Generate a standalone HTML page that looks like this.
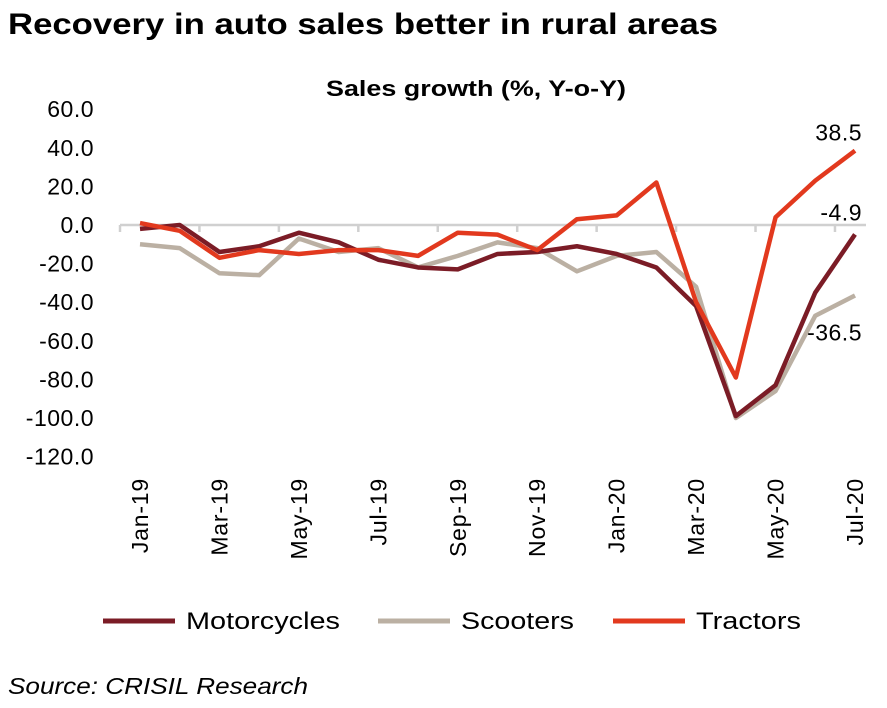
<!DOCTYPE html>
<html><head><meta charset="utf-8"><style>
body{margin:0;background:#fff;width:887px;height:703px;overflow:hidden;font-family:"Liberation Sans",sans-serif}
</style></head><body>
<svg width="887" height="703" font-family="Liberation Sans, sans-serif">
<text x="8" y="34" font-size="30" font-weight="bold" fill="#000" textLength="710" lengthAdjust="spacingAndGlyphs">Recovery in auto sales better in rural areas</text>
<text x="326" y="96" font-size="22" font-weight="bold" textLength="300" lengthAdjust="spacingAndGlyphs">Sales growth (%, Y-o-Y)</text>
<g id="yax"></g><g id="xax"></g><g id="lines"></g><g id="labels"></g>
<g>
<line x1="103" y1="621" x2="175" y2="621" stroke="#7b1c26" stroke-width="5"/>
<text x="186" y="629" font-size="24" textLength="154" lengthAdjust="spacingAndGlyphs">Motorcycles</text>
<line x1="378" y1="621" x2="450" y2="621" stroke="#bbb0a3" stroke-width="5"/>
<text x="461" y="629" font-size="24" textLength="113" lengthAdjust="spacingAndGlyphs">Scooters</text>
<line x1="613" y1="621" x2="685" y2="621" stroke="#e2391e" stroke-width="5"/>
<text x="696" y="629" font-size="24" textLength="105" lengthAdjust="spacingAndGlyphs">Tractors</text>
</g>
<text x="8" y="694" font-size="23" font-style="italic" textLength="300" lengthAdjust="spacingAndGlyphs">Source: CRISIL Research</text>
</svg>
<script>
const months=["Jan-19","Feb-19","Mar-19","Apr-19","May-19","Jun-19","Jul-19","Aug-19","Sep-19","Oct-19","Nov-19","Dec-19","Jan-20","Feb-20","Mar-20","Apr-20","May-20","Jun-20","Jul-20"];
const motorcycles=[-2,0,-14,-11,-4,-9,-18,-22,-23,-15,-14,-11,-15,-22,-42,-99,-83,-35,-4.9];
const scooters=[-10,-12,-25,-26,-7,-14,-12,-22,-16,-9,-12,-24,-16,-14,-32,-100,-86,-47,-36.5];
const tractors=[1,-3,-17,-13,-15,-13,-13,-16,-4,-5,-13,3,5,22,-40,-79,4,23,38.5];
const yTicks=[60,40,20,0,-20,-40,-60,-80,-100,-120];
const NS="http://www.w3.org/2000/svg";
const x=i=>140+i*(715/(months.length-1));
const y=v=>225-v*1.93;
function mk(t,a,p){const e=document.createElementNS(NS,t);for(const k in a)e.setAttribute(k,a[k]);p.appendChild(e);return e;}
const ya=document.getElementById('yax'),xa=document.getElementById('xax'),lg=document.getElementById('lines'),lb=document.getElementById('labels');
yTicks.forEach(v=>{const t=mk('text',{x:94,y:y(v)+8,'font-size':23,'text-anchor':'end','letter-spacing':'0.5'},ya);t.textContent=v.toFixed(1);

});
const ax=mk('line',{x1:120,x2:866,y1:y(0),y2:y(0),stroke:'#d0d0d0','stroke-width':2.5},xa);


for(let i=0;i<=18;i+=2){const l=mk('line',{x1:120+i*39.72,x2:120+i*39.72,y1:y(0),y2:y(0)+7,stroke:'#d0d0d0','stroke-width':2.5},xa);

}
months.forEach((m,i)=>{if(i%2)return;const t=mk('text',{x:0,y:0,'font-size':23,'text-anchor':'end','letter-spacing':'0.8',transform:`translate(${x(i)+8},478) rotate(-90)`},xa);t.textContent=m;

});
[[scooters,'#bbb0a3','scooters-line'],[motorcycles,'#7b1c26','motorcycles-line'],[tractors,'#e2391e','tractors-line']].forEach(([d,c,n])=>{
const p=mk('polyline',{points:d.map((v,i)=>x(i)+','+y(v)).join(' '),fill:'none',stroke:c,'stroke-width':4.5,'stroke-linejoin':'round'},lg);

});
const L=months.length-1;
[[tractors[L],y(tractors[L])-10],[motorcycles[L],y(motorcycles[L])-14],[scooters[L],y(scooters[L])+45]].forEach(([v,py])=>{
const t=mk('text',{x:862,y:py,'font-size':23,'text-anchor':'end','letter-spacing':'0.5'},lb);t.textContent=v.toFixed(1);

});
</script>
</body></html>
